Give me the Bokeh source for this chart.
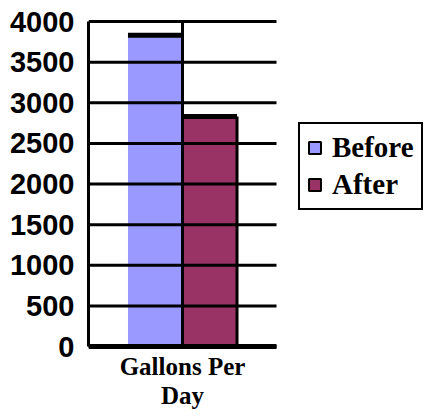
from bokeh.plotting import figure
from bokeh.models import ColumnDataSource, FixedTicker, Legend, LegendItem, Range1d
from bokeh.embed import file_html
from bokeh.resources import INLINE

# ---- data ----
category = "Gallons Per\nDay"
series = ["Before", "After"]
values = [3830, 2830]
colors = ["#9999FF", "#993366"]
y_ticks = [0, 500, 1000, 1500, 2000, 2500, 3000, 3500, 4000]

# ---- layout helpers (pixels of the 423x410 canvas) ----
W, H = 423, 410
left_px, plot_right_px, top_px, bottom_px = 88, 276, 21, 346
y_min, y_max = 0, 4000
upp = (y_max - y_min) / (bottom_px - top_px)          # data units per pixel
x_end = (W - left_px) / (plot_right_px - left_px)     # plot area spans x 0..1
center = 0.5
bar_w = 0.29
xs = [center - bar_w / 2, center + bar_w / 2]

p = figure(width=W, height=H, output_backend="svg", toolbar_location=None,
           x_axis_location=None,
           x_range=Range1d(0, x_end),
           y_range=Range1d(y_min - (H - bottom_px) * upp, y_max + top_px * upp),
           min_border_left=left_px, min_border_right=0, min_border_top=0,
           min_border_bottom=0)
p.outline_line_color = None
p.background_fill_color = "white"
p.border_fill_color = "white"
p.xgrid.visible = False
p.ygrid.visible = False

src = ColumnDataSource(dict(x=xs, top=values, color=colors,
                            left=[x - bar_w / 2 for x in xs],
                            right=[x + bar_w / 2 for x in xs]))
p.vbar(x="x", top="top", width=bar_w, fill_color="color", line_color=None, source=src)
# top edges of bars
p.segment(x0="left", x1="right", y0="top", y1="top", line_color="black",
          line_width=5, source=src)
# right edge of the last bar
last = ColumnDataSource(dict(x=[xs[-1] + bar_w / 2], top=[values[-1]]))
p.segment(x0="x", x1="x", y0=0, y1="top", line_color="black", line_width=3, source=last)

# gridlines (over the bars)
grid = ColumnDataSource(dict(y=y_ticks, x0=[0] * len(y_ticks), x1=[1] * len(y_ticks)))
p.segment(x0="x0", x1="x1", y0="y", y1="y", line_color="black", line_width=3, source=grid)
p.segment(x0=[center], x1=[center], y0=[y_min], y1=[y_max], line_color="black", line_width=3)
# category axis line
p.segment(x0=[0], x1=[1], y0=[y_min], y1=[y_min], line_color="black", line_width=5)

# category label
p.text(x=[center], y=[y_min - 6 * upp], text=[category],
       text_font={"value": "Liberation Serif"}, text_font_style="bold",
       text_font_size="25px", text_align="center", text_baseline="top",
       text_line_height=1.1, text_color="black")

# value axis
p.yaxis.bounds = (y_min, y_max)
p.yaxis.ticker = FixedTicker(ticks=y_ticks)
p.yaxis.major_label_text_font = "Liberation Sans"
p.yaxis.major_label_text_font_style = "bold"
p.yaxis.major_label_text_font_size = "29px"
p.yaxis.major_label_text_color = "black"
p.yaxis.major_tick_line_color = None
p.yaxis.minor_tick_line_color = None
p.yaxis.axis_line_width = 3
p.yaxis.axis_line_color = "black"
p.yaxis.major_label_standoff = 8

# legend swatches (renderers placed outside the visible range)
items = []
for name, c in zip(series, colors):
    r = p.vbar(x=[-1], top=[0], width=bar_w, fill_color=c, line_color="black", line_width=2)
    items.append(LegendItem(label=name, renderers=[r]))
legend = Legend(items=items, location=(210, H - 210))
legend.label_text_font = "Liberation Serif"
legend.label_text_font_style = "bold"
legend.label_text_font_size = "29px"
legend.label_text_color = "black"
legend.glyph_width = 15
legend.glyph_height = 15
legend.label_standoff = 10
legend.label_height = 30
legend.spacing = 4
legend.padding = 7
legend.margin = 0
legend.border_line_color = "black"
legend.border_line_width = 2
legend.border_line_alpha = 1
legend.background_fill_alpha = 1
p.add_layout(legend, "center")

open("out.html", "w").write(file_html(p, INLINE))
